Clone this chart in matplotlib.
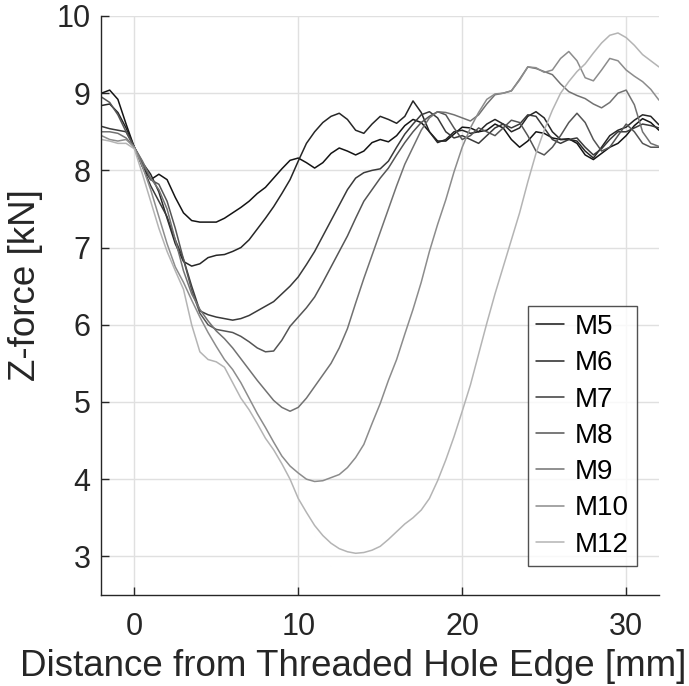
import numpy as np
import matplotlib.pyplot as plt

plt.rcParams['font.family'] = ['Liberation Sans', 'DejaVu Sans']

# distance from threaded hole edge [mm], sampled every 0.5 mm
dist = np.arange(-2, 32.01, 0.5)

labels = ['M5', 'M6', 'M7', 'M8', 'M9', 'M10', 'M12']

m5 = [9.00, 9.04, 8.92, 8.60, 8.30, 8.05, 7.88, 7.95, 7.88, 7.65, 7.45, 7.35, 7.33, 7.33,
      7.33, 7.38, 7.45, 7.52, 7.60, 7.70, 7.78, 7.90, 8.02, 8.13, 8.16, 8.10, 8.03, 8.10,
      8.22, 8.29, 8.25, 8.20, 8.25, 8.36, 8.40, 8.37, 8.45, 8.58, 8.66, 8.62, 8.50, 8.38,
      8.38, 8.47, 8.56, 8.55, 8.50, 8.52, 8.60, 8.55, 8.40, 8.30, 8.38, 8.50, 8.48, 8.42,
      8.40, 8.41, 8.35, 8.20, 8.14, 8.22, 8.30, 8.35, 8.45, 8.58, 8.67, 8.62, 8.52]
m6 = [8.84, 8.86, 8.75, 8.55, 8.30, 8.10, 7.95, 7.72, 7.38, 7.05, 6.82, 6.76, 6.79, 6.87,
      6.90, 6.91, 6.95, 7.00, 7.10, 7.24, 7.38, 7.53, 7.70, 7.88, 8.12, 8.35, 8.50, 8.62,
      8.70, 8.74, 8.66, 8.52, 8.48, 8.60, 8.70, 8.66, 8.61, 8.70, 8.90, 8.75, 8.50, 8.36,
      8.40, 8.50, 8.52, 8.48, 8.50, 8.60, 8.66, 8.60, 8.50, 8.55, 8.70, 8.76, 8.68, 8.50,
      8.40, 8.40, 8.38, 8.25, 8.16, 8.30, 8.45, 8.52, 8.56, 8.65, 8.72, 8.70, 8.59]
m7 = [8.57, 8.54, 8.52, 8.50, 8.30, 8.05, 7.80, 7.60, 7.40, 7.10, 6.85, 6.50, 6.18, 6.13,
      6.10, 6.08, 6.06, 6.08, 6.12, 6.18, 6.24, 6.30, 6.40, 6.50, 6.62, 6.78, 6.95, 7.15,
      7.35, 7.55, 7.75, 7.90, 7.97, 8.00, 8.02, 8.12, 8.30, 8.47, 8.60, 8.72, 8.76, 8.68,
      8.50, 8.42, 8.45, 8.40, 8.35, 8.45, 8.55, 8.60, 8.55, 8.60, 8.72, 8.70, 8.55, 8.40,
      8.35, 8.40, 8.42, 8.30, 8.20, 8.28, 8.40, 8.50, 8.50, 8.55, 8.60, 8.58, 8.55]
m8 = [8.95, 8.88, 8.72, 8.50, 8.30, 8.10, 7.88, 7.82, 7.60, 7.25, 6.85, 6.45, 6.15, 6.00,
      5.94, 5.92, 5.90, 5.85, 5.78, 5.70, 5.65, 5.66, 5.80, 5.98, 6.10, 6.22, 6.36, 6.55,
      6.75, 6.95, 7.15, 7.38, 7.60, 7.75, 7.90, 8.03, 8.20, 8.36, 8.50, 8.62, 8.70, 8.76,
      8.72, 8.55, 8.40, 8.45, 8.55, 8.50, 8.45, 8.55, 8.65, 8.62, 8.45, 8.25, 8.20, 8.30,
      8.45, 8.62, 8.74, 8.62, 8.40, 8.25, 8.30, 8.45, 8.60, 8.50, 8.35, 8.30, 8.30]
m9 = [8.50, 8.50, 8.48, 8.42, 8.30, 8.12, 7.90, 7.75, 7.50, 7.10, 6.70, 6.40, 6.20, 6.05,
      5.92, 5.82, 5.70, 5.56, 5.42, 5.28, 5.15, 5.02, 4.93, 4.88, 4.93, 5.05, 5.20, 5.35,
      5.50, 5.70, 5.95, 6.28, 6.60, 6.90, 7.20, 7.50, 7.80, 8.08, 8.30, 8.52, 8.68, 8.76,
      8.75, 8.72, 8.68, 8.64, 8.72, 8.86, 8.98, 9.00, 9.03, 9.18, 9.34, 9.32, 9.28, 9.24,
      9.12, 9.02, 8.97, 8.93, 8.86, 8.81, 8.88, 9.00, 9.04, 8.85, 8.50, 8.35, 8.31]
m10 = [8.45, 8.40, 8.38, 8.40, 8.30, 8.05, 7.75, 7.40, 7.05, 6.75, 6.55, 6.32, 6.10, 5.90,
       5.72, 5.55, 5.42, 5.25, 5.05, 4.85, 4.67, 4.48, 4.30, 4.17, 4.08, 4.00, 3.97, 3.98,
       4.02, 4.06, 4.15, 4.28, 4.45, 4.72, 4.98, 5.28, 5.55, 5.88, 6.20, 6.55, 6.95, 7.30,
       7.62, 7.98, 8.30, 8.55, 8.75, 8.92, 8.99, 9.00, 9.03, 9.17, 9.34, 9.33, 9.27, 9.30,
       9.45, 9.54, 9.42, 9.20, 9.16, 9.30, 9.45, 9.42, 9.30, 9.22, 9.15, 9.05, 8.91]
m12 = [8.40, 8.38, 8.35, 8.35, 8.28, 7.95, 7.60, 7.25, 6.95, 6.70, 6.46, 6.00, 5.65, 5.55,
       5.52, 5.45, 5.25, 5.05, 4.90, 4.72, 4.53, 4.38, 4.20, 4.00, 3.75, 3.57, 3.40, 3.27,
       3.17, 3.10, 3.06, 3.04, 3.05, 3.08, 3.13, 3.22, 3.32, 3.42, 3.50, 3.60, 3.75, 3.98,
       4.25, 4.55, 4.88, 5.22, 5.62, 6.02, 6.40, 6.75, 7.10, 7.45, 7.85, 8.22, 8.52, 8.78,
       9.00, 9.15, 9.28, 9.38, 9.52, 9.65, 9.75, 9.78, 9.72, 9.62, 9.50, 9.42, 9.34]

series = [m5, m6, m7, m8, m9, m10, m12]
colors = ['#141414', '#262626', '#3a3a3a', '#555555', '#727272', '#8c8c8c', '#b4b4b4']

fig = plt.figure(figsize=(6.89, 6.86), dpi=100)
ax = fig.add_axes([0.1473, 0.1327, 0.8091, 0.8440])

for vals, lab, col in zip(series, labels, colors):
    ax.plot(dist, vals, color=col, linewidth=1.1, label=lab,
            solid_joinstyle='round', solid_capstyle='round')

ax.set_xlim(-2, 32)
ax.set_ylim(2.5, 10)
ax.set_xticks([0, 10, 20, 30])
ax.set_yticks([3, 4, 5, 6, 7, 8, 9, 10])
ax.grid(True, color='#e0e0e0', linewidth=1.0)
ax.set_axisbelow(True)

for side in ['top', 'right']:
    ax.spines[side].set_visible(False)
for side in ['left', 'bottom']:
    ax.spines[side].set_color('#262626')
    ax.spines[side].set_linewidth(1.0)
ax.tick_params(direction='in', length=6, width=1.0, colors='#262626',
               labelsize=22, labelcolor='#262626', pad=8)
ax.tick_params(axis='x', pad=12)

ax.set_xlabel('Distance from Threaded Hole Edge [mm]', fontsize=26.5, color='#262626')
ax.set_ylabel('Z-force [kN]', fontsize=26.5, color='#262626')
ax.xaxis.set_label_coords(0.451, -0.093)
ax.yaxis.set_label_coords(-0.105, 0.535)

leg = ax.legend(loc='lower right', bbox_to_anchor=(0.9605, 0.05), fontsize=20,
                frameon=True, fancybox=False, edgecolor='#262626',
                handlelength=1.0, handletextpad=0.38, labelspacing=0.37,
                borderpad=0.3, borderaxespad=0)
leg.get_frame().set_linewidth(1.0)

fig.savefig('out.png', dpi=100, facecolor='white')
